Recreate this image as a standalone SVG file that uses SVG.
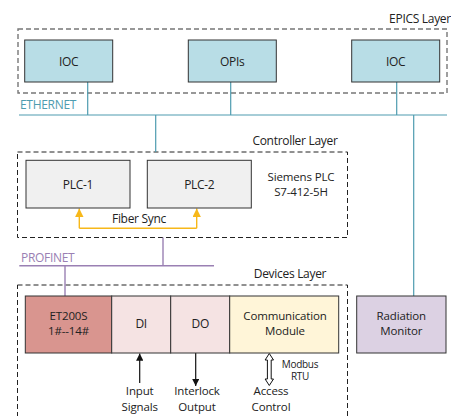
<svg xmlns="http://www.w3.org/2000/svg" width="451" height="416" viewBox="0 0 451 416">
  <defs>
    <style>
      text { font-family: "Open Sans", "DejaVu Sans", sans-serif; fill: #222; letter-spacing: -0.3px; }
      .lbl { font-size: 12px; text-anchor: middle; }
      .two { font-size: 11.5px; text-anchor: middle; letter-spacing: -0.15px; }
      .layer { font-size: 12px; text-anchor: middle; }
      .small { font-size: 10px; text-anchor: middle; }
      .box { stroke: #333; stroke-width: 1; }
      .ioc { fill: #b8dde6; }
      .plc { fill: #f0f0f0; }
      .et { fill: #d9958f; }
      .io { fill: #f5e3e3; }
      .comm { fill: #fff5d8; }
      .rad { fill: #dcd1e3; }
      .epics { fill: none; stroke: #777; stroke-width: 1.4; stroke-dasharray: 5 3; }
      .zone { fill: none; stroke: #222; stroke-width: 1; stroke-dasharray: 5 3; }
      .eth { stroke: #4e9cb0; stroke-width: 1.2; fill: none; }
      .pn { stroke: #9a80b3; stroke-width: 1.4; fill: none; }
      .fiber { stroke: #f7b81a; stroke-width: 1.4; fill: none; }
      .sig { stroke: #111; stroke-width: 1.2; fill: none; }
    </style>
    <marker id="arrY" viewBox="0 0 10 10" refX="10" refY="5" markerWidth="6" markerHeight="6" orient="auto">
      <path d="M0,0 L10,5 L0,10 Z" fill="#f7b81a"/>
    </marker>
    <marker id="arrK" viewBox="0 0 10 10" refX="10" refY="5" markerWidth="6" markerHeight="6" orient="auto">
      <path d="M0,0 L10,5 L0,10 Z" fill="#111"/>
    </marker>
  </defs>

  <!-- layer frames -->
  <g id="layers">
    <rect class="epics" x="18" y="29" width="429" height="64"/>
    <text class="layer" x="420" y="23">EPICS Layer</text>
    <rect class="zone" x="17.5" y="152" width="330" height="85.5"/>
    <text class="layer" x="295" y="145">Controller Layer</text>
    <rect class="zone" x="17.5" y="285" width="330" height="200"/>
    <text class="layer" x="290" y="278">Devices Layer</text>
  </g>

  <!-- connectors -->
  <g id="connectors">
    <!-- Ethernet bus -->
    <line class="eth" x1="19" y1="115" x2="447" y2="115"/>
    <line class="eth" x1="87.7" y1="82" x2="87.7" y2="115"/>
    <line class="eth" x1="230.7" y1="82" x2="230.7" y2="115"/>
    <line class="eth" x1="396.7" y1="82" x2="396.7" y2="115"/>
    <line class="eth" x1="155.7" y1="115" x2="155.7" y2="152"/>
    <line class="eth" x1="413.7" y1="115" x2="413.7" y2="296"/>
    <text x="20" y="109" style="font-size:12px; fill:#4e9cb0;">ETHERNET</text>

    <!-- Profinet bus -->
    <line class="pn" x1="163" y1="237.5" x2="163" y2="265.7"/>
    <line class="pn" x1="19.3" y1="265.7" x2="214" y2="265.7"/>
    <line class="pn" x1="65" y1="265.7" x2="65" y2="296"/>
    <text x="21" y="261.5" style="font-size:12px; fill:#9a80b3;">PROFINET</text>

    <!-- Fiber sync between redundant CPUs -->
    <path class="fiber" d="M79.3,228.3 L196.7,228.3"/>
    <path class="fiber" d="M79.3,228.3 L79.3,208.5" marker-end="url(#arrY)"/>
    <path class="fiber" d="M196.7,228.3 L196.7,208.5" marker-end="url(#arrY)"/>
    <text class="lbl" x="139" y="223">Fiber Sync</text>

    <!-- field signals -->
    <path class="sig" d="M139.7,383 L139.7,353.5" marker-end="url(#arrK)"/>
    <path class="sig" d="M195.7,353 L195.7,386" marker-end="url(#arrK)"/>
    <!-- Modbus RTU hollow double arrow -->
    <path d="M269.3,353.5 L273.5,360 L271.2,360 L271.2,379 L273.5,379 L269.3,385.5 L265.1,379 L267.4,379 L267.4,360 L265.1,360 Z" fill="#fff" stroke="#111" stroke-width="1"/>
    <text class="small" x="300" y="367.5">Modbus</text>
    <text class="small" x="300" y="380">RTU</text>
  </g>

  <!-- EPICS layer nodes -->
  <g id="ioc1">
    <rect class="box ioc" x="24.7" y="40" width="88" height="42"/>
    <text class="lbl" x="68.7" y="65.5">IOC</text>
  </g>
  <g id="opis">
    <rect class="box ioc" x="188.3" y="40" width="88" height="42"/>
    <text class="lbl" x="232.3" y="65.5">OPIs</text>
  </g>
  <g id="ioc2">
    <rect class="box ioc" x="351.7" y="40" width="88" height="42"/>
    <text class="lbl" x="395.7" y="65.5">IOC</text>
  </g>

  <!-- Controller layer nodes -->
  <g id="plc1">
    <rect class="box plc" x="26" y="160.3" width="104" height="47.7"/>
    <text class="lbl" x="78" y="188.5">PLC-1</text>
  </g>
  <g id="plc2">
    <rect class="box plc" x="147.3" y="160.3" width="104" height="47.7"/>
    <text class="lbl" x="199.3" y="188.5">PLC-2</text>
  </g>
  <g id="siemens">
    <text class="two" x="301" y="180.5">Siemens PLC</text>
    <text class="two" x="301" y="196.2">S7-412-5H</text>
  </g>

  <!-- Devices layer nodes -->
  <g id="et200s">
    <rect class="box et" x="25.3" y="296" width="86.4" height="57"/>
    <text class="two" x="68.5" y="319.5">ET200S</text>
    <text class="two" x="68.5" y="335.2">1#--14#</text>
  </g>
  <g id="di">
    <rect class="box io" x="111.7" y="296" width="59" height="57"/>
    <text class="lbl" x="141.2" y="328">DI</text>
  </g>
  <g id="do">
    <rect class="box io" x="170.7" y="296" width="59" height="57"/>
    <text class="lbl" x="200.2" y="328">DO</text>
  </g>
  <g id="comm">
    <rect class="box comm" x="229.7" y="296" width="109" height="57"/>
    <text class="two" x="285" y="319.5">Communication</text>
    <text class="two" x="285" y="335.2">Module</text>
  </g>
  <g id="radiation">
    <rect class="box rad" x="356.7" y="296" width="89.3" height="57"/>
    <text class="two" x="401.3" y="319.5">Radiation</text>
    <text class="two" x="401.3" y="335.2">Monitor</text>
  </g>

  <!-- signal labels -->
  <g id="labels">
    <text class="two" x="139.7" y="395.3">Input</text>
    <text class="two" x="139.7" y="411">Signals</text>
    <text class="two" x="197" y="395.3">Interlock</text>
    <text class="two" x="197" y="411">Output</text>
    <text class="two" x="271" y="395.3">Access</text>
    <text class="two" x="271" y="411">Control</text>
  </g>
</svg>
